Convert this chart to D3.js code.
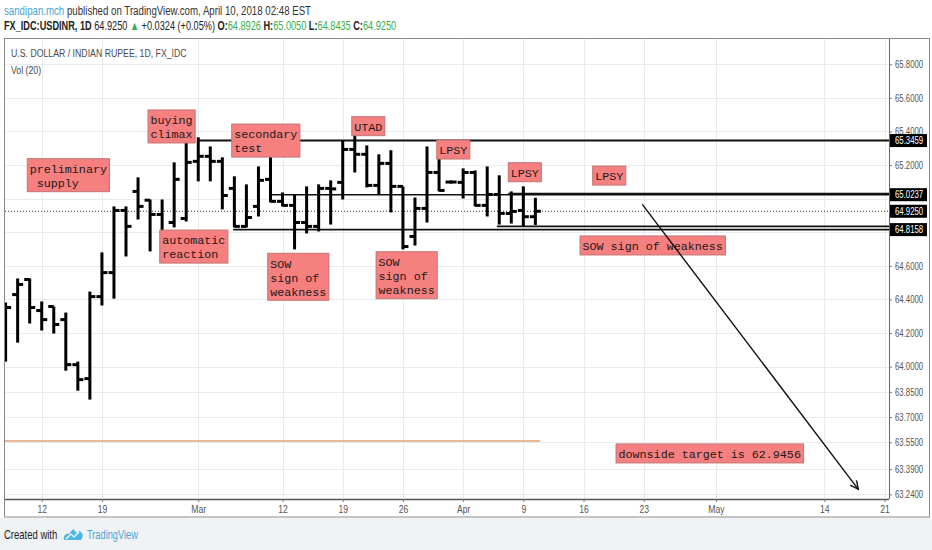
<!DOCTYPE html>
<html>
<head>
<meta charset="utf-8">
<script src="https://cdn.jsdelivr.net/npm/d3@7"></script>
<style>
body { margin: 0; background: #fff; }
svg { display: block; }
text { font-family: "Liberation Sans", Arial, sans-serif; }
.note text { font-family: "Courier New", "Nimbus Mono PS", "Nimbus Mono L", FreeMono, "Liberation Mono", monospace; font-size: 11.7px; fill: #1a1a1a; white-space: pre; }
</style>
</head>
<body>
<div id="viz"></div>
<script>
// daily bars, USD/INR
const dates = ["2018-02-07","2018-02-08","2018-02-09","2018-02-12","2018-02-13","2018-02-14","2018-02-15","2018-02-16",
  "2018-02-19","2018-02-20","2018-02-21","2018-02-22","2018-02-23","2018-02-26","2018-02-27","2018-02-28",
  "2018-03-01","2018-03-02","2018-03-05","2018-03-06","2018-03-07","2018-03-08","2018-03-09","2018-03-12",
  "2018-03-13","2018-03-14","2018-03-15","2018-03-16","2018-03-19","2018-03-20","2018-03-21","2018-03-22",
  "2018-03-23","2018-03-26","2018-03-27","2018-03-28","2018-03-29","2018-03-30","2018-04-02","2018-04-03",
  "2018-04-04","2018-04-05","2018-04-06","2018-04-09","2018-04-10"];
const open = [64.33,64.429,64.519,64.334,64.358,64.28,64.012,63.929,64.417,64.56,64.93,65.043,64.991,64.906,64.858,64.882,
  65.222,65.252,65.222,65.061,64.835,64.954,65.115,64.984,64.96,64.858,64.835,65.061,65.097,65.293,65.264,65.079,
  65.21,65.073,64.775,64.942,65.156,65.099,65.097,65.156,64.96,65.025,64.912,64.93,64.8926];
const high = [64.382,64.525,64.525,64.388,64.358,64.322,64.03,64.447,64.68,64.954,64.954,65.127,64.995,64.995,65.216,65.335,
  65.365,65.311,65.246,65.133,65.085,65.192,65.252,65.037,65.025,65.073,65.085,65.109,65.347,65.383,65.317,65.264,
  65.288,65.073,65.007,65.311,65.24,65.099,65.18,65.168,65.192,65.139,65.043,65.073,65.005];
const low = [64.03,64.143,64.257,64.215,64.197,63.976,63.857,63.804,64.364,64.405,64.656,64.876,64.686,64.626,64.829,64.864,
  65.103,65.103,64.936,64.829,64.829,64.894,64.978,64.954,64.698,64.793,64.805,64.846,64.995,65.156,65.067,65.025,
  64.918,64.698,64.721,64.858,65.043,65.099,65.001,64.954,64.894,64.846,64.852,64.835,64.8435];
const close = [64.352,64.489,64.352,64.28,64.251,64.012,63.923,64.417,64.56,64.93,64.835,64.954,64.906,64.775,65.115,65.216,
  65.252,65.222,65.019,64.835,64.888,65.109,64.984,64.96,64.858,64.835,65.061,65.058,65.293,65.264,65.079,65.21,
  65.073,64.715,64.942,65.156,65.049,65.099,65.156,64.96,65.025,64.912,64.924,64.8926,64.925];

const priceTicks = [65.8,65.6,65.4,65.2,65.0,64.8,64.6,64.4,64.2,64.0,63.85,63.7,63.55,63.39,63.24];
const dateTicks = ["2018-02-12","2018-02-19","2018-03-01","2018-03-12","2018-03-19","2018-03-26","2018-04-02",
  "2018-04-09","2018-04-16","2018-04-23","2018-05-01","2018-05-14","2018-05-21"];
const dateTickLabels = ["12","19","Mar","12","19","26","Apr","9","16","23","May","14","21"];

// drawn horizontal levels: price, start date (+ bar shift)
const levelPrice = [65.3459, 65.0237, 65.03, 64.8158, 64.835];
const levelFrom = ["2018-03-01","2018-03-09","2018-04-05","2018-03-06","2018-04-05"];
const levelShift = [0, 0.1, 0.75, -0.1, -0.2];
const axisMarks = [65.3459, 65.0237, 64.925, 64.8158];

// text notes, anchored top-left at date (+ bar shift) / price
const noteText = [["preliminary"," supply"],["buying","climax"],["secondary","test"],["automatic","reaction"],
  ["SOW","sign of","weakness"],["UTAD"],["SOW","sign of","weakness"],["LPSY"],["LPSY"],["LPSY"],
  ["SOW sign of weakness"],["downside target is 62.9456"]];
const noteDate = ["2018-02-09","2018-02-23","2018-03-05","2018-02-26","2018-03-08","2018-03-19","2018-03-21",
  "2018-03-28","2018-04-05","2018-04-16","2018-04-13","2018-04-18"];
const noteShift = [-0.2,-0.17,0.78,-0.2,0.77,0.75,0.77,0.81,0.75,0.76,0.71,0.7];
const notePrice = [65.238,65.528,65.444,64.813,64.675,65.488,64.684,65.349,65.214,65.194,64.778,63.54];

const arrowFrom = {date: "2018-04-20", shift: 0.88, price: 64.966};
const arrowTo = {date: "2018-05-16", shift: 0.82, price: 63.27};
const volMa = 0.58;

const parse = d3.timeParse("%Y-%m-%d");
const fmtDay = d3.timeFormat("%Y-%m-%d");
const calendar = d3.timeDay.range(parse("2018-02-07"), parse("2018-05-26"))
  .filter(d => d.getDay() % 6 !== 0).map(fmtDay);
const idx = (d, s = 0) => calendar.indexOf(d) + s;

// squeeze text horizontally (no narrow font installed)
function narrow(sel, k) {
  sel.each(function() {
    const t = d3.select(this);
    const x0 = +t.attr("x") || 0;
    t.attr("x", x0 / k).attr("transform", `scale(${k},1)`);
  });
}

const W = 932, H = 550;
const plot = {left: 5, right: 889, top: 39, bottom: 499};

const x = d3.scaleLinear().domain([-0.05, 73.37]).range([plot.left, plot.right]);
const y = d3.scaleLinear().domain([63.2123, 65.9504]).range([plot.bottom, plot.top]);
const vol = d3.scaleLinear().domain([0, 1]).range([plot.bottom, plot.bottom - 100]);
const fmt = d3.format(".4f");

const svg = d3.select("#viz").append("svg").attr("width", W).attr("height", H);

svg.append("rect").attr("x", 0).attr("y", 518).attr("width", W).attr("height", H - 518).attr("fill", "#f0f3f5");

// header
const bars = dates.map((d, i) => ({d, o: open[i], h: high[i], l: low[i], c: close[i]}));
const last = bars[bars.length - 1], prev = bars[bars.length - 2];
const chg = last.c - prev.c;

const h1 = svg.append("text").attr("x", 4).attr("y", 15).attr("font-size", 12.5).attr("fill", "#333");
h1.append("tspan").attr("fill", "#4ba3d3").text("sandipan.mch");
h1.append("tspan").text(" published on TradingView.com, April 10, 2018 02:48 EST");
narrow(h1, 0.775);

const green = "#3aae4a";
const h2 = svg.append("text").attr("x", 4).attr("y", 30).attr("font-size", 12.5).attr("fill", "#222");
h2.append("tspan").attr("font-weight", "bold").text("FX_IDC:USDINR, 1D");
h2.append("tspan").text(" " + fmt(last.c) + " ");
h2.append("tspan").attr("fill", green).text(chg >= 0 ? "▲" : "▼");
h2.append("tspan").text(" " + d3.format("+.4f")(chg) + " (" + d3.format("+.2%")(chg / prev.c) + ") ");
[["O:", last.o], ["H:", last.h], ["L:", last.l], ["C:", last.c]].forEach(([k, v], i) => {
  h2.append("tspan").attr("font-weight", "bold").text((i ? " " : "") + k);
  h2.append("tspan").attr("fill", green).text(fmt(v));
});
narrow(h2, 0.735);

// frame
svg.append("rect").attr("x", 4.5).attr("y", 38.5).attr("width", 925).attr("height", 478.5)
  .attr("fill", "#fff").attr("stroke", "#8a8a8a");

// grid
const grid = svg.append("g").attr("stroke", "#e8ecef").attr("stroke-width", 1);
grid.selectAll(".gy").data(priceTicks).enter().append("line")
  .attr("x1", plot.left).attr("x2", plot.right)
  .attr("y1", d => Math.round(y(d)) + 0.5).attr("y2", d => Math.round(y(d)) + 0.5);
grid.selectAll(".gx").data(dateTicks).enter().append("line")
  .attr("y1", plot.top).attr("y2", plot.bottom)
  .attr("x1", d => Math.round(x(idx(d))) + 0.5).attr("x2", d => Math.round(x(idx(d))) + 0.5);

narrow(svg.append("text").attr("x", 11).attr("y", 57).attr("font-size", 11.5).attr("fill", "#4a4a4a")
  .text("U.S. DOLLAR / INDIAN RUPEE, 1D, FX_IDC"), 0.76);
narrow(svg.append("text").attr("x", 11).attr("y", 74).attr("font-size", 11.5).attr("fill", "#4a4a4a")
  .text("Vol (20)"), 0.76);

svg.append("clipPath").attr("id", "clip").append("rect")
  .attr("x", plot.left).attr("y", plot.top).attr("width", plot.right - plot.left).attr("height", plot.bottom - plot.top);
const g = svg.append("g").attr("clip-path", "url(#clip)");

// volume MA
g.append("line").attr("x1", x(-1)).attr("x2", x(bars.length - 1 + 0.4))
  .attr("y1", vol(volMa)).attr("y2", vol(volMa)).attr("stroke", "#e0a070").attr("stroke-width", 1.5);

// last price dotted line
g.append("line").attr("x1", plot.left).attr("x2", plot.right)
  .attr("y1", y(last.c)).attr("y2", y(last.c))
  .attr("stroke", "#333").attr("stroke-dasharray", "1,2");

// levels
g.selectAll(".lvl").data(levelPrice).enter().append("line")
  .attr("x1", (d, i) => x(idx(levelFrom[i], levelShift[i]))).attr("x2", plot.right)
  .attr("y1", d => y(d)).attr("y2", d => y(d))
  .attr("stroke", "#111").attr("stroke-width", (d, i) => i === 0 ? 2 : 1.6);

// OHLC bars
const bar = g.selectAll(".bar").data(bars).enter().append("g").attr("stroke", "#000").attr("stroke-width", 3);
bar.append("line").attr("x1", d => x(idx(d.d))).attr("x2", d => x(idx(d.d)))
  .attr("y1", d => y(d.h) - (d.h === d.l ? 1.5 : 0)).attr("y2", d => y(d.l) + (d.h === d.l ? 1.5 : 0));
bar.append("line").attr("x1", d => x(idx(d.d)) - 5.5).attr("x2", d => x(idx(d.d)))
  .attr("y1", d => y(d.o)).attr("y2", d => y(d.o));
bar.append("line").attr("x1", d => x(idx(d.d))).attr("x2", d => x(idx(d.d)) + 5.5)
  .attr("y1", d => y(d.c)).attr("y2", d => y(d.c));

// notes
const cw = 7.02, lh = 14;
const note = g.selectAll(".note").data(noteText).enter().append("g").attr("class", "note")
  .attr("transform", (d, i) => `translate(${x(idx(noteDate[i], noteShift[i]))},${y(notePrice[i])})`);
note.append("rect")
  .attr("width", d => d3.max(d, s => s.length) * cw + 5)
  .attr("height", d => d.length * lh + 5)
  .attr("fill", "#f67f7f").attr("stroke", "#c47474");
note.each(function(d) {
  const t = d3.select(this).append("text").attr("xml:space", "preserve");
  d.forEach((s, j) => t.append("tspan").attr("x", 2.5).attr("y", 14.3 + j * lh).text(s));
});

// arrow
const ax1 = x(idx(arrowFrom.date, arrowFrom.shift)), ay1 = y(arrowFrom.price);
const ax2 = x(idx(arrowTo.date, arrowTo.shift)), ay2 = y(arrowTo.price);
const ang = Math.atan2(ay2 - ay1, ax2 - ax1);
const arrow = g.append("g").attr("stroke", "#111").attr("stroke-width", 1.4).attr("fill", "none");
arrow.append("line").attr("x1", ax1).attr("y1", ay1).attr("x2", ax2).attr("y2", ay2);
arrow.append("path").attr("d", d3.line()([
  [ax2 - 9 * Math.cos(ang - 0.45), ay2 - 9 * Math.sin(ang - 0.45)],
  [ax2, ay2],
  [ax2 - 9 * Math.cos(ang + 0.45), ay2 - 9 * Math.sin(ang + 0.45)]
]));

// price axis (labels sitting under a price mark are hidden, as in the source)
const yAxis = d3.axisRight(y).tickValues(priceTicks).tickFormat(fmt).tickSize(3).tickSizeOuter(0);
const ya = svg.append("g").attr("transform", `translate(${plot.right},0)`).call(yAxis);
ya.select(".domain").attr("stroke", "#666").attr("d", `M0.5,${plot.top}V${plot.bottom}`);
ya.selectAll(".tick line").attr("stroke", "#777");
ya.selectAll(".tick text").attr("x", 6).attr("font-size", 10).attr("fill", "#555")
  .attr("font-family", "'Liberation Sans',Arial,sans-serif")
  .attr("display", d => axisMarks.some(m => Math.abs(y(m) - y(d)) < 8) ? "none" : null);
narrow(ya.selectAll(".tick text"), 0.78);

const marks = svg.append("g").selectAll("g").data(axisMarks).enter().append("g")
  .attr("transform", d => `translate(${plot.right + 1},${y(d)})`);
marks.append("rect").attr("x", 0).attr("y", -6.5).attr("width", 37).attr("height", 13).attr("fill", "#000");
narrow(marks.append("text").attr("x", 5).attr("y", 3.6).attr("font-size", 10).attr("fill", "#fff").text(fmt), 0.78);

// time axis
const xAxis = d3.axisBottom(x).tickValues(dateTicks.map(d => idx(d)))
  .tickFormat((d, i) => dateTickLabels[i]).tickSize(3).tickSizeOuter(0);
const xa = svg.append("g").attr("transform", `translate(0,${plot.bottom})`).call(xAxis);
xa.select(".domain").attr("stroke", "#555").attr("stroke-width", 1.5).attr("d", `M${plot.left},0.5H${plot.right}`);
xa.selectAll(".tick line").attr("stroke", "#777");
xa.selectAll(".tick text").attr("y", 7).attr("font-size", 10.5).attr("fill", "#555")
  .attr("font-family", "'Liberation Sans',Arial,sans-serif");
narrow(xa.selectAll(".tick text"), 0.82);

// footer
narrow(svg.append("text").attr("x", 4).attr("y", 539).attr("font-size", 12.5).attr("fill", "#222").text("Created with"), 0.76);
svg.append("path").attr("d", "M64,540 C63,536 66,533 69,534 L73,529 L77,533 L79,531 C83,532 84,537 81,540 Z")
  .attr("fill", "#4fb4e6");
svg.append("path").attr("d", "M66,539 L71,534 L74,537 L79,532").attr("fill", "none").attr("stroke", "#fff").attr("stroke-width", 1.2);
narrow(svg.append("text").attr("x", 87).attr("y", 539).attr("font-size", 12.5).attr("fill", "#4ba3d3").text("TradingView"), 0.74);
</script>
</body>
</html>
